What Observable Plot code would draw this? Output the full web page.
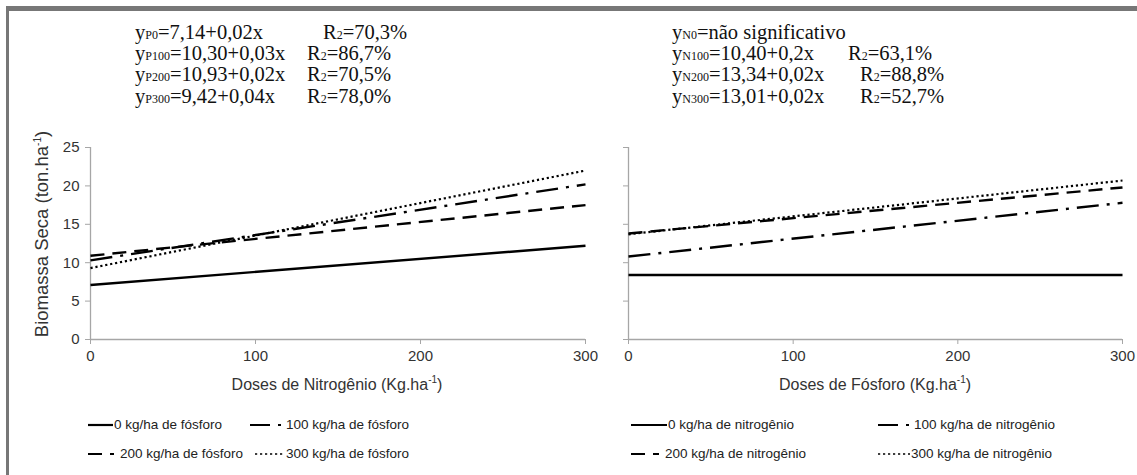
<!DOCTYPE html>
<html><head><meta charset="utf-8">
<script src="https://cdn.jsdelivr.net/npm/d3@7"></script>
<script src="https://cdn.jsdelivr.net/npm/@observablehq/plot@0.6"></script>
<style>
body{margin:0;background:#fff;}
#root{position:relative;width:1137px;height:475px;overflow:hidden;font-family:"Liberation Sans",Arial,sans-serif;color:#333;}
.frame{position:absolute;left:6px;top:6px;width:1200px;height:500px;border-top:5px solid #777;border-left:3px solid #777;}
.eq{position:absolute;font-family:"Liberation Serif","Times New Roman",serif;font-size:20.5px;color:#111;white-space:nowrap;line-height:18px;height:18px;}
.eq span.s{font-size:12px;line-height:12px;}
.plot{position:absolute;top:130px;}
.ttl{position:absolute;font-size:16px;white-space:nowrap;color:#333;}
.ttl sup{font-size:10px;}
.leg{position:absolute;font-size:13.5px;white-space:nowrap;color:#222;display:flex;align-items:center;}
.leg svg{display:block;}
</style></head>
<body><div id="root">
<div class="frame"></div>
</div>
<script>
// ---- data ----
const doses = [0, 300];
const xTicks = [0, 100, 200, 300];
const yTicks = [0, 5, 10, 15, 20, 25];

const seriesP = ["0 kg/ha de fósforo", "100 kg/ha de fósforo", "200 kg/ha de fósforo", "300 kg/ha de fósforo"];
const biomassP0 = [7.1, 12.2];
const biomassP100 = [10.3, 20.2];
const biomassP200 = [10.9, 17.5];
const biomassP300 = [9.3, 22.0];

const seriesN = ["0 kg/ha de nitrogênio", "100 kg/ha de nitrogênio", "200 kg/ha de nitrogênio", "300 kg/ha de nitrogênio"];
const biomassN0 = [8.4, 8.4];
const biomassN100 = [10.8, 17.8];
const biomassN200 = [13.8, 19.8];
const biomassN300 = [13.7, 20.7];

const eqLeft = [["P0", "=7,14+0,02x", "70,3%"], ["P100", "=10,30+0,03x", "86,7%"], ["P200", "=10,93+0,02x", "70,5%"], ["P300", "=9,42+0,04x", "78,0%"]];
const eqRight = [["N0", "=não significativo", null], ["N100", "=10,40+0,2x", "63,1%"], ["N200", "=13,34+0,02x", "88,8%"], ["N300", "=13,01+0,02x", "52,7%"]];

const xTitleLeft = "Doses de Nitrogênio (Kg.ha";
const xTitleRight = "Doses de Fósforo (Kg.ha";
const yTitle = "Biomassa Seca (ton.ha";

// ---- styles ----
const dashes = [null, "22,8,3,8", "14,8", "2.2,2.8"];

const root = document.getElementById("root");

function rows(names, vals) {
  const out = [];
  names.forEach((n, i) => vals[i].forEach((v, j) => out.push({series: n, x: doses[j], y: v})));
  return out;
}
const dataP = rows(seriesP, [biomassP0, biomassP100, biomassP200, biomassP300]);
const dataN = rows(seriesN, [biomassN0, biomassN100, biomassN200, biomassN300]);

function chart(data, names, showY, ml, w) {
  return Plot.plot({
    width: w, height: 250,
    marginLeft: ml, marginRight: 15, marginTop: 17, marginBottom: 41,
    x: {domain: [0, 300]},
    y: {domain: [0, 25]},
    style: {fontFamily: "'Liberation Sans', Arial, sans-serif", fontSize: "15px", color: "#333", background: "transparent", overflow: "visible"},
    marks: [
      Plot.ruleX([0], {stroke: "#a6a6a6", strokeWidth: 1.3}),
      Plot.ruleY([0], {stroke: "#a6a6a6", strokeWidth: 1.3}),
      Plot.axisY({ticks: yTicks, tickSize: 5, tickPadding: 6, stroke: "#a6a6a6", fill: "#333",
                  tickFormat: showY ? (d => d) : (d => ""), label: null}),
      Plot.axisX({ticks: xTicks, tickSize: 5, tickPadding: 6, stroke: "#a6a6a6", fill: "#333", label: null}),
      ...names.map((n, i) => Plot.line(data.filter(d => d.series === n), {
        x: "x", y: "y", stroke: "#000", strokeWidth: i === 3 ? 2.2 : 2.4,
        strokeDasharray: dashes[i], strokeLinecap: "butt"
      }))
    ]
  });
}

const left = chart(dataP, seriesP, true, 90, 600);
left.classList.add("plot"); left.style.left = "0px";
root.appendChild(left);
const right = chart(dataN, seriesN, false, 68, 577);
right.classList.add("plot"); right.style.left = "560px";
root.appendChild(right);

// equations
function eqBlock(list, x0, rx) {
  const tops = [23, 44, 65, 87];
  list.forEach((e, i) => {
    const d = document.createElement("div");
    d.className = "eq";
    d.style.left = x0 + "px"; d.style.top = tops[i] + "px";
    d.innerHTML = `y<span class="s">${e[0]}</span>${e[1]}`;
    root.appendChild(d);
    if (e[2]) {
      const r = document.createElement("div");
      r.className = "eq";
      r.style.left = rx[i] + "px"; r.style.top = tops[i] + "px";
      r.innerHTML = `R<span class="s">2</span>=${e[2]}`;
      root.appendChild(r);
    }
  });
}
eqBlock(eqLeft, 135, [323, 307, 307, 307]);
eqBlock(eqRight, 672, [0, 848, 860, 860]);

// axis titles
function title(txt, cx, cy, rot) {
  const d = document.createElement("div");
  d.className = "ttl";
  d.innerHTML = `${txt}<sup>-1</sup>)`;
  d.style.left = cx + "px"; d.style.top = cy + "px";
  d.style.transform = `translate(-50%,-50%)${rot ? " rotate(-90deg)" : ""}`;
  if (rot) d.style.fontSize = "18.5px";
  root.appendChild(d);
}
title(yTitle, 42, 234, true);
title(xTitleLeft, 337, 384, false);
title(xTitleRight, 875, 384, false);

// legends
function sample(i, w) {
  const da = dashes[i] ? `stroke-dasharray="${i === 1 ? "20,8,3,8" : dashes[i]}"` : "";
  return `<svg width="${w}" height="10"><line x1="0" x2="${w}" y1="5" y2="5" stroke="#000" stroke-width="${i === 3 ? 1.6 : 2.2}" ${da}/></svg>`;
}
function legendItem(name, i, x, y, w) {
  const d = document.createElement("div");
  d.className = "leg";
  d.style.left = x + "px"; d.style.top = (y - 8) + "px";
  d.innerHTML = sample(i, w) + `<span style="margin-left:${i===2?6:1}px">${name}</span>`;
  root.appendChild(d);
}
legendItem(seriesP[0], 0, 88, 425, 25);
legendItem(seriesP[1], 1, 250, 425, 35);
legendItem(seriesP[2], 2, 88, 454, 26);
legendItem(seriesP[3], 3, 255, 454, 30);
legendItem(seriesN[0], 0, 631, 425, 36);
legendItem(seriesN[1], 1, 878, 425, 35);
legendItem(seriesN[2], 2, 631, 454, 28);
legendItem(seriesN[3], 3, 878, 454, 32);
</script>
</body></html>
